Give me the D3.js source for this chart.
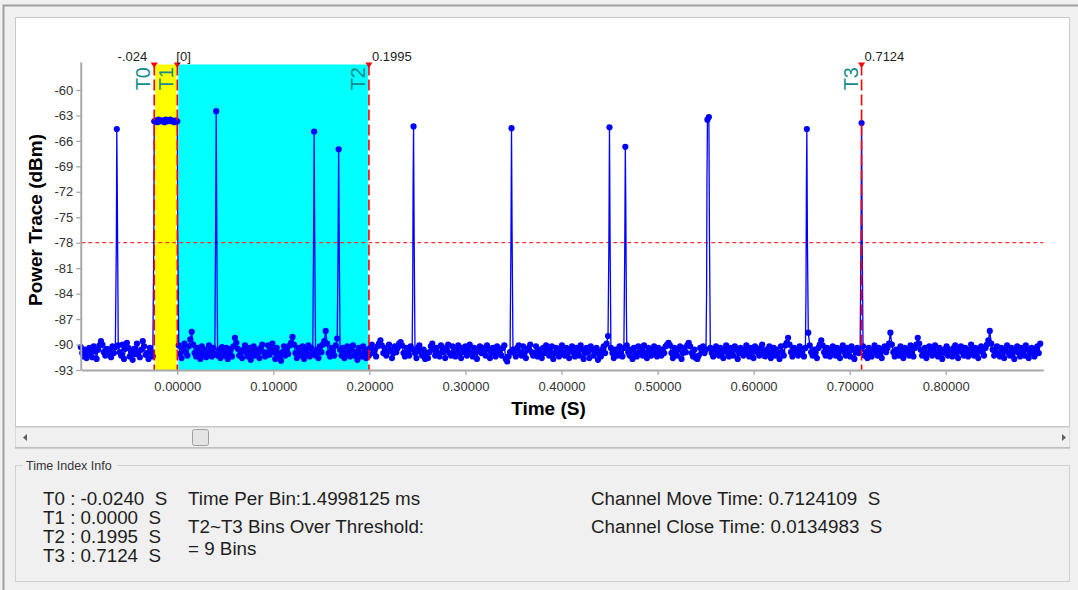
<!DOCTYPE html>
<html><head><meta charset="utf-8">
<script src="https://cdn.jsdelivr.net/npm/d3@7/dist/d3.min.js"></script>
<style>
html,body{margin:0;padding:0;background:#f0f0f0;overflow:hidden;}
svg{display:block;font-family:"Liberation Sans",Arial,sans-serif;}
</style></head><body>
<svg id="chart" width="1078" height="590"></svg>
<script>
// ---------- data ----------
const binWidth = 0.0014998125;   // seconds per bin
const firstBin = -67;            // bin index of first sample
const powerTrace = [
-90.3,-91.0,-91.4,-90.6,-91.6,-91.1,-90.4,-90.9,-91.5,-90.2,-90.8,-91.7,-90.6,-90.1,-89.6,-90.0,-90.9,-91.3,-90.5,-91.2,
-90.6,-91.5,-90.2,-91.0,-90.3,-64.6,-90.1,-90.9,-91.3,-90.0,-91.7,-90.5,-89.8,-90.4,-91.4,-90.9,-91.8,-90.5,-91.1,-89.9,
-90.9,-91.5,-90.6,-89.6,-90.2,-91.2,-91.0,-91.7,-90.4,-90.9,-91.4,-63.7,-63.6,-63.8,-63.5,-63.7,-63.6,-63.6,-63.8,-63.5,
-63.7,-63.6,-63.5,-63.7,-63.6,-63.8,-63.6,-63.7,-90.1,-91.1,-91.6,-90.5,-89.9,-90.9,-91.3,-90.2,-89.4,-88.5,-90.0,-91.0,
-91.4,-90.4,-90.9,-91.7,-90.2,-91.2,-90.6,-91.5,-91.0,-90.1,-90.9,-91.4,-90.4,-91.1,-62.5,-91.3,-90.6,-91.6,-90.3,-90.9,
-91.3,-90.4,-91.7,-91.0,-90.5,-91.4,-90.2,-89.2,-89.8,-90.5,-91.3,-90.9,-91.6,-90.6,-90.1,-91.0,-91.4,-90.4,-91.8,-90.8,
-90.2,-91.3,-90.6,-91.0,-91.6,-90.4,-90.0,-90.9,-91.4,-91.0,-90.1,-91.2,-90.6,-89.9,-90.9,-91.7,-90.4,-91.0,-91.4,-91.9,
-90.9,-90.2,-91.3,-90.6,-91.1,-90.1,-89.8,-89.1,-90.0,-91.0,-91.6,-90.4,-90.9,-91.3,-90.2,-91.7,-90.6,-91.1,-90.1,-91.4,
-90.4,-91.0,-64.9,-91.3,-90.6,-91.6,-90.2,-90.9,-90.0,-89.6,-88.4,-89.9,-91.0,-91.4,-90.4,-90.9,-91.3,-90.1,-89.3,-67.0,
-90.6,-91.3,-90.4,-91.6,-91.0,-90.2,-90.9,-91.4,-90.6,-90.1,-91.3,-90.9,-91.8,-90.4,-91.0,-91.4,-90.2,-90.9,-91.6,-90.6,
-91.3,-90.4,-90.0,-91.0,-90.6,-91.4,-90.2,-89.9,-89.5,-90.1,-91.0,-90.4,-91.3,-90.9,-90.0,-90.6,-91.6,-91.0,-90.2,-90.9,
-90.4,-89.9,-89.7,-90.1,-91.0,-91.4,-90.4,-90.9,-91.3,-90.2,-90.6,-64.3,-91.0,-91.6,-90.4,-90.1,-90.9,-91.3,-90.6,-91.7,
-91.0,-91.6,-90.9,-90.2,-89.9,-90.6,-91.3,-90.4,-91.0,-91.4,-90.1,-90.9,-90.4,-91.6,-90.6,-90.0,-91.0,-91.3,-90.2,-90.9,
-91.4,-90.6,-90.1,-91.0,-91.6,-90.4,-90.9,-90.2,-91.3,-90.6,-90.0,-91.0,-91.4,-90.4,-90.9,-91.7,-90.6,-90.2,-91.0,-90.4,
-90.9,-91.3,-90.1,-90.6,-91.6,-91.0,-90.4,-90.9,-91.4,-90.2,-90.6,-91.0,-91.3,-90.4,-90.1,-91.7,-92.0,-91.4,-90.9,-64.5,
-90.6,-91.0,-91.4,-90.4,-90.1,-90.9,-91.3,-90.2,-91.0,-91.6,-90.6,-90.4,-90.0,-90.9,-91.3,-91.0,-90.2,-91.4,-90.6,-90.9,
-91.6,-90.4,-91.0,-90.1,-90.6,-91.3,-90.9,-90.2,-91.7,-91.0,-90.4,-90.9,-91.4,-90.6,-90.1,-91.0,-91.3,-90.4,-90.9,-91.6,
-90.6,-90.2,-91.0,-91.4,-90.4,-90.9,-91.3,-90.1,-90.6,-91.7,-91.0,-90.4,-90.9,-91.6,-90.2,-90.6,-91.3,-91.0,-90.4,-91.8,
-90.9,-91.4,-90.6,-90.2,-91.0,-89.9,-89.0,-64.4,-90.4,-91.0,-91.6,-90.6,-90.9,-91.3,-90.2,-91.0,-91.4,-90.4,-66.7,-90.1,
-90.9,-91.3,-90.6,-91.7,-90.4,-91.0,-91.4,-90.2,-90.9,-90.6,-91.3,-90.1,-91.0,-91.6,-90.4,-90.9,-91.3,-90.6,-90.2,-91.0,
-91.4,-90.4,-90.9,-91.3,-90.6,-91.0,-90.2,-90.0,-89.8,-90.1,-91.0,-91.6,-90.4,-90.9,-91.3,-90.6,-90.2,-91.7,-91.0,-90.4,
-90.9,-90.1,-89.8,-90.2,-91.0,-91.4,-90.6,-91.6,-91.7,-91.3,-90.4,-90.9,-90.2,-91.0,-90.6,-63.5,-63.2,-90.4,-91.0,-91.4,
-90.6,-90.2,-91.0,-91.3,-90.4,-90.9,-91.6,-90.6,-90.1,-91.0,-91.4,-90.4,-90.9,-91.3,-90.2,-90.6,-91.7,-91.0,-90.4,-90.9,
-91.3,-90.6,-90.1,-91.0,-91.4,-90.4,-90.9,-91.6,-90.2,-90.6,-91.0,-91.3,-90.4,-90.0,-90.9,-91.4,-90.6,-91.0,-90.2,-91.6,
-90.9,-90.4,-91.3,-90.6,-91.0,-91.7,-90.2,-90.9,-91.3,-90.1,-89.8,-89.2,-90.0,-90.9,-91.4,-90.4,-91.0,-90.6,-91.3,-90.2,
-91.0,-90.6,-91.4,-90.4,-64.6,-88.6,-90.1,-90.9,-91.3,-90.6,-91.0,-91.6,-90.4,-90.0,-89.5,-90.1,-90.9,-91.3,-90.4,-91.0,
-91.4,-90.6,-90.2,-90.9,-91.3,-90.4,-91.0,-91.6,-90.6,-90.1,-90.9,-91.3,-90.4,-91.0,-91.4,-90.2,-90.6,-91.7,-90.9,-90.4,
-91.0,-90.6,-63.9,-90.2,-91.3,-90.9,-91.6,-90.4,-91.0,-91.4,-90.6,-90.1,-90.9,-91.3,-90.4,-91.0,-91.6,-90.6,-90.2,-90.9,
-90.4,-89.9,-88.6,-90.0,-90.9,-91.4,-90.6,-91.0,-91.3,-90.2,-90.9,-91.6,-90.4,-91.0,-90.6,-91.3,-90.1,-90.9,-91.4,-90.4,
-90.0,-89.2,-89.9,-90.6,-91.3,-90.9,-90.4,-91.6,-91.0,-90.2,-90.9,-91.3,-90.6,-90.1,-91.0,-91.4,-90.4,-90.9,-91.7,-90.6,
-91.0,-90.2,-91.3,-90.6,-90.9,-91.4,-90.4,-90.1,-91.0,-91.6,-90.6,-90.2,-90.9,-91.3,-90.4,-91.0,-91.4,-90.6,-90.0,-90.9,
-91.3,-90.4,-91.0,-91.6,-90.6,-90.2,-90.9,-91.3,-90.4,-90.0,-89.5,-88.4,-89.9,-90.6,-91.3,-90.9,-90.2,-91.0,-91.4,-90.4,
-90.9,-91.6,-90.6,-90.1,-91.0,-91.3,-90.4,-90.9,-91.7,-90.6,-90.2,-91.0,-91.4,-90.4,-90.9,-91.3,-90.1,-90.6,-91.6,-91.0,
-90.4,-90.9,-91.4,-90.6,-90.2,-91.0,-89.9
];
// sub-bin transition samples (line only, no marker): bin position, dBm
const edgeBins   = [-42.3,-41.7,-41.2, -16.3, 0.3, 26.6,27.4, 94.6,95.4, 111.6,112.4, 163.4,163.7,164.4, 231.6,232.4, 299.6,300.4, 310.6,311.3,311.7, 367.4,367.7,369.4, 436.4,436.7,437.4, 474.6,475.4];
const edgeValues = [-77.7,-71.2,-84.2, -77.5,-76.9, -76.7,-76.7, -78.0,-78.0, -79.0,-78.3, -83.9,-70.8,-77.1, -78.0,-77.0, -77.9,-77.3, -78.9,-72.8,-85.1, -84.2,-70.3,-77.1, -84.2,-71.2,-77.7, -77.1,-77.1];

const markerNames  = ["T0", "T1", "T2", "T3"];
const markerTimes  = [-0.0240, 0.0000, 0.1995, 0.7124];
const markerLabels = ["-.024", "[0]", "0.1995", "0.7124"];
const threshold = -78;

const xTicks = [0, 0.1, 0.2, 0.3, 0.4, 0.5, 0.6, 0.7, 0.8];
const yTicks = [-60, -63, -66, -69, -72, -75, -78, -81, -84, -87, -90, -93];
const xTitle = "Time (S)";
const yTitle = "Power Trace (dBm)";

const groupTitle = "Time Index Info";
const infoMarkers = ["T0 : -0.0240  S", "T1 : 0.0000  S", "T2 : 0.1995  S", "T3 : 0.7124  S"];
const infoMiddle  = ["Time Per Bin:1.4998125 ms", "T2~T3 Bins Over Threshold:", "= 9 Bins"];
const infoRight   = ["Channel Move Time: 0.7124109  S", "Channel Close Time: 0.0134983  S"];

// ---------- drawing ----------
const svg = d3.select("#chart");
const x = d3.scaleLinear().domain([-0.1, 0.9016]).range([81.25, 1043.3]);
const y = d3.scaleLinear().domain([-93, -57]).range([370, 64.5]);
const plotTop = y(-57), plotBottom = y(-93);

// window frame
svg.append("rect").attr("x",0).attr("y",0).attr("width",1078).attr("height",590).attr("fill","#f0f0f0");
svg.append("path").attr("d","M3.5,590 V5.5 H1078").attr("fill","none").attr("stroke","#a0a0a0").attr("stroke-width",2);
// chart panel
svg.append("rect").attr("x",15.5).attr("y",17.5).attr("width",1054).attr("height",409)
  .attr("fill","#ffffff").attr("stroke","#c8c8c8");

// bands
svg.append("rect").attr("x",x(markerTimes[0])).attr("y",plotTop)
  .attr("width",x(markerTimes[1])-x(markerTimes[0])).attr("height",plotBottom-plotTop).attr("fill","#ffff00");
svg.append("rect").attr("x",x(markerTimes[1])).attr("y",plotTop)
  .attr("width",x(markerTimes[2])-x(markerTimes[1])).attr("height",plotBottom-plotTop).attr("fill","#00ffff");

// marker white under-lines
svg.selectAll(".mwhite").data(markerTimes).join("line")
  .attr("x1",d=>x(d)).attr("x2",d=>x(d)).attr("y1",plotTop).attr("y2",plotBottom)
  .attr("stroke","#ffffff").attr("stroke-width",2);

// threshold
svg.append("line").attr("x1",x(-0.1)).attr("x2",x(0.9016)).attr("y1",y(threshold)).attr("y2",y(threshold))
  .attr("stroke","#ff3030").attr("stroke-width",1.3).attr("stroke-dasharray","4,3");

// trace
const binPts = powerTrace.map((v,i)=>({t:(firstBin+i)*binWidth, v, dot:true}));
const edgePts = edgeBins.map((b,i)=>({t:b*binWidth, v:edgeValues[i], dot:false}));
const allPts = binPts.concat(edgePts).sort((a,b)=>a.t-b.t);
const line = d3.line().x(d=>x(d.t)).y(d=>y(d.v));
svg.append("path").datum(allPts).attr("d",line).attr("fill","none")
  .attr("stroke","#0000ff").attr("stroke-width",1.3);
svg.append("g").selectAll("circle").data(binPts).join("circle")
  .attr("cx",d=>x(d.t)).attr("cy",d=>y(d.v)).attr("r",3.1).attr("fill","#0000ff");

// marker red dashes
svg.selectAll(".mred").data(markerTimes).join("line")
  .attr("x1",d=>x(d)).attr("x2",d=>x(d)).attr("y1",plotTop).attr("y2",plotBottom)
  .attr("stroke","#ff0000").attr("stroke-width",1.6).attr("stroke-dasharray","11,4");
// triangles
svg.selectAll(".mtri").data(markerTimes).join("path")
  .attr("d",d=>`M${x(d)-3.5},${plotTop-2} L${x(d)+3.5},${plotTop-2} L${x(d)},${plotTop+3.5} Z`)
  .attr("fill","#ff0000");
// value labels
svg.selectAll(".mval").data(markerLabels).join("text")
  .attr("x",(d,i)=> i===0 ? x(markerTimes[i])-7 : x(markerTimes[i])+ (i===1?-1:3))
  .attr("y",61).attr("text-anchor",(d,i)=> i===0 ? "end" : "start")
  .attr("font-size",13).attr("fill","#222").text(d=>d);
// names
svg.selectAll(".mname").data(markerNames).join("text")
  .attr("transform",(d,i)=>`translate(${x(markerTimes[i])-4},67) rotate(-90)`)
  .attr("text-anchor","end").attr("font-size",20).attr("fill","#148c8c").text(d=>d);

// axes
const gy = svg.append("g").attr("transform",`translate(${x(-0.1)},0)`)
  .call(d3.axisLeft(y).tickValues(yTicks).tickFormat(d=>String(d)).tickSize(5).tickSizeOuter(0).tickPadding(3));
const gx = svg.append("g").attr("transform",`translate(0,${plotBottom})`)
  .call(d3.axisBottom(x).tickValues(xTicks).tickFormat(d3.format(".5f")).tickSize(5).tickSizeOuter(0).tickPadding(7));
[gy,gx].forEach(g=>{
  g.select(".domain").attr("stroke","#a8a8a8").attr("stroke-width",2);
  g.selectAll(".tick line").attr("stroke","#a8a8a8").attr("stroke-width",1.3);
  g.selectAll(".tick text").attr("fill","#333").attr("font-size",13).attr("font-family","Liberation Sans, Arial, sans-serif");
});
gy.select(".domain").attr("d",`M0,${plotTop-2}V${plotBottom}`);

svg.append("text").attr("transform","translate(42,220) rotate(-90)").attr("text-anchor","middle")
  .attr("font-size",19).attr("font-weight","bold").attr("fill","#000").text(yTitle);
svg.append("text").attr("x",548.5).attr("y",415).attr("text-anchor","middle")
  .attr("font-size",19).attr("font-weight","bold").attr("fill","#000").text(xTitle);

// scrollbar
svg.append("rect").attr("x",15.5).attr("y",427.5).attr("width",1054).attr("height",20).attr("fill","#f0f0f0").attr("stroke","#dadada");
svg.append("line").attr("x1",15).attr("x2",1070).attr("y1",448).attr("y2",448).attr("stroke","#a8a8a8");
svg.append("path").attr("d","M23,437.5 L27,434 L27,441 Z").attr("fill","#606060");
svg.append("path").attr("d","M1066,437.5 L1062,434 L1062,441 Z").attr("fill","#606060");
svg.append("rect").attr("x",192.5).attr("y",429.5).attr("width",16).attr("height",16).attr("rx",2)
  .attr("fill","#e4e4e4").attr("stroke","#a0a0a0");

// group box
svg.append("rect").attr("x",15.5).attr("y",465.5).attr("width",1054).attr("height",116)
  .attr("fill","none").attr("stroke","#d0d0d0");
svg.append("rect").attr("x",23).attr("y",458).attr("width",94).attr("height",14).attr("fill","#f0f0f0");
svg.append("text").attr("x",26).attr("y",470).attr("font-size",12.5).attr("fill","#333").text(groupTitle);

const infoStyle = s => s.attr("font-size",18.8).attr("fill","#1e1e1e").style("white-space","pre");
svg.selectAll(".im").data(infoMarkers).join("text").attr("x",43)
  .attr("y",(d,i)=>[505,524,543,562][i]).call(infoStyle).text(d=>d);
svg.selectAll(".imid").data(infoMiddle).join("text").attr("x",188)
  .attr("y",(d,i)=>[505,533,555][i]).call(infoStyle).text(d=>d);
svg.selectAll(".ir").data(infoRight).join("text").attr("x",591)
  .attr("y",(d,i)=>[505,533][i]).call(infoStyle).text(d=>d);
</script>
</body></html>
